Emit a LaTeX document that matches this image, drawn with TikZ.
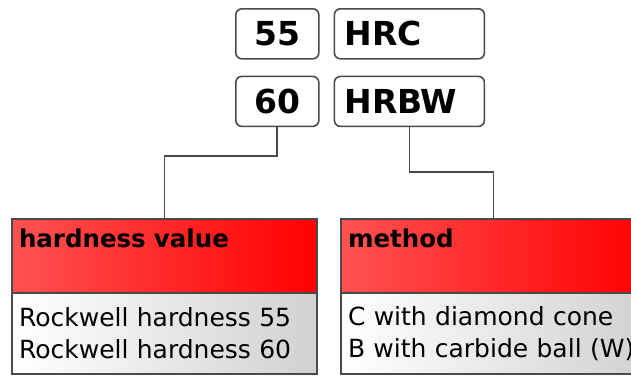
\documentclass[tikz,border=0pt]{standalone}
\usepackage{fontspec}
\setmainfont{DejaVu Sans}
\usetikzlibrary{positioning}

\definecolor{framegray}{HTML}{4A4A4A}

\tikzset{
    valbox/.style={draw=framegray, line width=1.6pt, rounded corners=6pt,
        minimum width=83pt, minimum height=50pt, inner sep=0pt,
        font=\fontsize{33}{38}\selectfont\bfseries},
    codebox/.style={valbox, minimum width=150pt, text width=130pt, align=left},
    headbox/.style={draw=framegray, line width=1.4pt, outer sep=0pt,
        left color=red!68!white, right color=red,
        text width=291pt, inner xsep=7pt, inner ysep=6pt,
        text height=22pt, text depth=40pt, align=left, anchor=north west,
        font=\fontsize{24.5}{29}\selectfont\bfseries},
    bodybox/.style={draw=framegray, line width=1.4pt, outer sep=0pt,
        left color=white, right color=black!18,
        text width=291pt, inner xsep=7pt, minimum height=81pt, align=left,
        font=\fontsize{25}{32}\selectfont},
    link/.style={draw=framegray, line width=1.8pt}
}

\begin{document}
\begin{tikzpicture}[x=1pt, y=1pt]
    \useasboundingbox (0,0) rectangle (631,-376);

    % Designation
    \node[valbox, anchor=north west] (v55) at (235,-8) {55};
    \node[codebox, right=14pt of v55] (c55) {HRC};
    \node[valbox, below=16pt of v55] (v60) {60};
    \node[codebox, right=14pt of v60] (c60) {HRBW};

    % Explanation boxes
    \node[headbox] (valhead) at (12,-219) {hardness value};
    \node[bodybox, below=0pt of valhead] (valbody) {Rockwell hardness 55\\Rockwell hardness 60};
    \node[headbox] (methhead) at (341,-219) {method};
    \node[bodybox, below=0pt of methhead] (methbody) {C with diamond cone\\B with carbide ball (W)};

    % Connectors
    \draw[link] (v60.south) -- ++(0,-29) -| (valhead.north);
    \draw[link] (c60.south) -- ++(0,-45) -| (methhead.north);
\end{tikzpicture}
\end{document}
